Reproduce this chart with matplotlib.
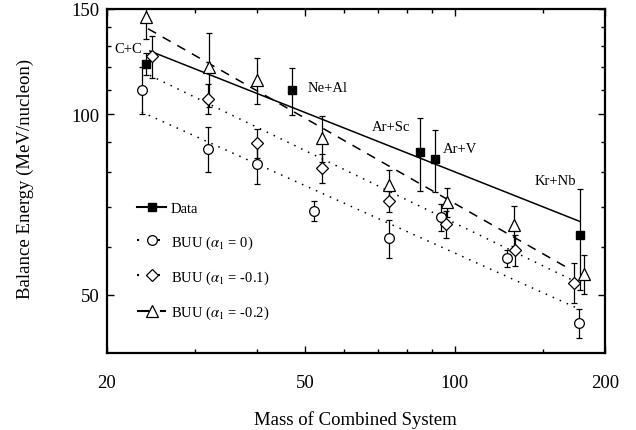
import numpy as np
import matplotlib
matplotlib.use("Agg")
import matplotlib.pyplot as plt
from matplotlib.lines import Line2D
from matplotlib.ticker import FixedLocator, NullFormatter, FixedFormatter

plt.rcParams["font.family"] = ["Liberation Serif", "DejaVu Serif"]
plt.rcParams["mathtext.fontset"] = "stix"

# measured balance energies (filled squares)
data_A = [24, 47, 85, 91, 178]
data_E = [121.5, 109.7, 86.5, 84.3, 63]
data_err = [5, 10, 12, 10, 12]
data_names = ["C+C", "Ne+Al", "Ar+Sc", "Ar+V", "Kr+Nb"]

# BUU alpha_1 = 0 (circles)
buu0_A = [23.5, 32.0, 40.0, 52.1, 73.8, 93.7, 127.5, 177.7]
buu0_E = [110, 87.6, 82.5, 69.1, 62.2, 67.3, 57.5, 44.8]
buu0_err = [10, 7.5, 6, 2.7, 4.5, 3.5, 1.8, 2.5]

# BUU alpha_1 = -0.1 (diamonds)
buu1_A = [24.6, 31.9, 40.0, 54.0, 73.8, 95.9, 131.9, 173.6]
buu1_E = [125, 106.2, 89.5, 81.3, 71.6, 65.6, 59.4, 52.4]
buu1_err = [10, 6, 5, 4.5, 3, 3.5, 3.5, 4]

# BUU alpha_1 = -0.2 (triangles)
buu2_A = [24.0, 32.1, 40.0, 54.0, 73.8, 96.3, 131.6, 181.6]
buu2_E = [145.5, 120, 114, 91.3, 76.3, 71.3, 65.4, 54.2]
buu2_err = [12, 17, 10, 8, 4.5, 4, 5, 4]

# straight-line fits (end points)
fit_data_A, fit_data_E = [24.4, 178], [127.6, 66.3]
fit_buu0_A, fit_buu0_E = [23.5, 175], [100.9, 47.6]
fit_buu1_A, fit_buu1_E = [24.4, 173], [116.2, 52.8]
fit_buu2_A, fit_buu2_E = [24.2, 170], [139, 55.2]

fig = plt.figure(figsize=(6.36, 4.31), dpi=100)
ax = fig.add_axes([0.168, 0.179, 0.783, 0.798])
ax.set_xscale("log")
ax.set_yscale("log")

dot = (0, (1, 4))
dash = (0, (6, 5))

ax.plot(fit_data_A, fit_data_E, "k-", lw=1.1)
ax.plot(fit_buu0_A, fit_buu0_E, color="k", ls=dot, lw=1.1)
ax.plot(fit_buu1_A, fit_buu1_E, color="k", ls=dot, lw=1.1)
ax.plot(fit_buu2_A, fit_buu2_E, color="k", ls=dash, lw=1.1)

common = dict(ecolor="k", elinewidth=0.9, capsize=2, capthick=0.9, ls="none", zorder=3)
ax.errorbar(buu0_A, buu0_E, yerr=buu0_err, marker="o", ms=7, mfc="white", mec="k", mew=0.9, **common)
ax.errorbar(buu1_A, buu1_E, yerr=buu1_err, marker="D", ms=6, mfc="white", mec="k", mew=0.9, **common)
ax.errorbar(buu2_A, buu2_E, yerr=buu2_err, marker="^", ms=8, mfc="white", mec="k", mew=0.9, **common)
ax.errorbar(data_A, data_E, yerr=data_err, marker="s", ms=6, mfc="k", mec="k", **common)

label_pos = [(128, 50), (328, 89), (391, 128), (460, 150), (555, 182)]
for name, (px, py) in zip(data_names, label_pos):
    ax.annotate(name, xy=(px, 431 - py), xycoords="figure pixels",
                ha="center", va="center", fontsize=10.5)

ax.set_xlim(20, 200)
ax.set_ylim(40, 150)

ax.xaxis.set_major_locator(FixedLocator([20, 50, 100, 200]))
ax.xaxis.set_major_formatter(FixedFormatter(["20", "50", "100", "200"]))
ax.xaxis.set_minor_locator(FixedLocator([30, 40, 60, 70, 80, 90, 150]))
ax.xaxis.set_minor_formatter(NullFormatter())
ax.yaxis.set_major_locator(FixedLocator([50, 100, 150]))
ax.yaxis.set_major_formatter(FixedFormatter(["50", "100", "150"]))
ax.yaxis.set_minor_locator(FixedLocator([60, 70, 80, 90, 110, 120, 130, 140]))
ax.yaxis.set_minor_formatter(NullFormatter())

ax.tick_params(which="both", direction="in", top=True, right=True, labelsize=13.5, width=1)
ax.tick_params(which="major", length=5)
ax.tick_params(which="minor", length=3)
ax.tick_params(axis="x", which="major", pad=15)
ax.tick_params(axis="y", which="major", pad=5)
for s in ax.spines.values():
    s.set_linewidth(1.6)

ax.set_xlabel("Mass of Combined System", fontsize=13.5, labelpad=14)
ax.set_ylabel("Balance Energy (MeV/nucleon)", fontsize=13.5)
ax.yaxis.set_label_coords(-0.147, 0.51)

handles = [
    Line2D([], [], color="k", ls="-", marker="s", ms=6, mfc="k"),
    Line2D([], [], color="k", ls=dot, marker="o", ms=7, mfc="white", mew=0.9),
    Line2D([], [], color="k", ls=dot, marker="D", ms=6, mfc="white", mew=0.9),
    Line2D([], [], color="k", ls=dash, marker="^", ms=8, mfc="white", mew=0.9),
]
labels = ["Data", r"BUU ($\alpha_1$ = 0)", r"BUU ($\alpha_1$ = -0.1)", r"BUU ($\alpha_1$ = -0.2)"]
ax.legend(handles, labels, loc="upper left", bbox_to_anchor=(130 / 636, (431 - 196) / 431),
          bbox_transform=fig.transFigure, frameon=False, fontsize=10.5,
          handlelength=2.0, handletextpad=0.3, labelspacing=1.22, borderpad=0)

fig.savefig("out.png", dpi=100)
